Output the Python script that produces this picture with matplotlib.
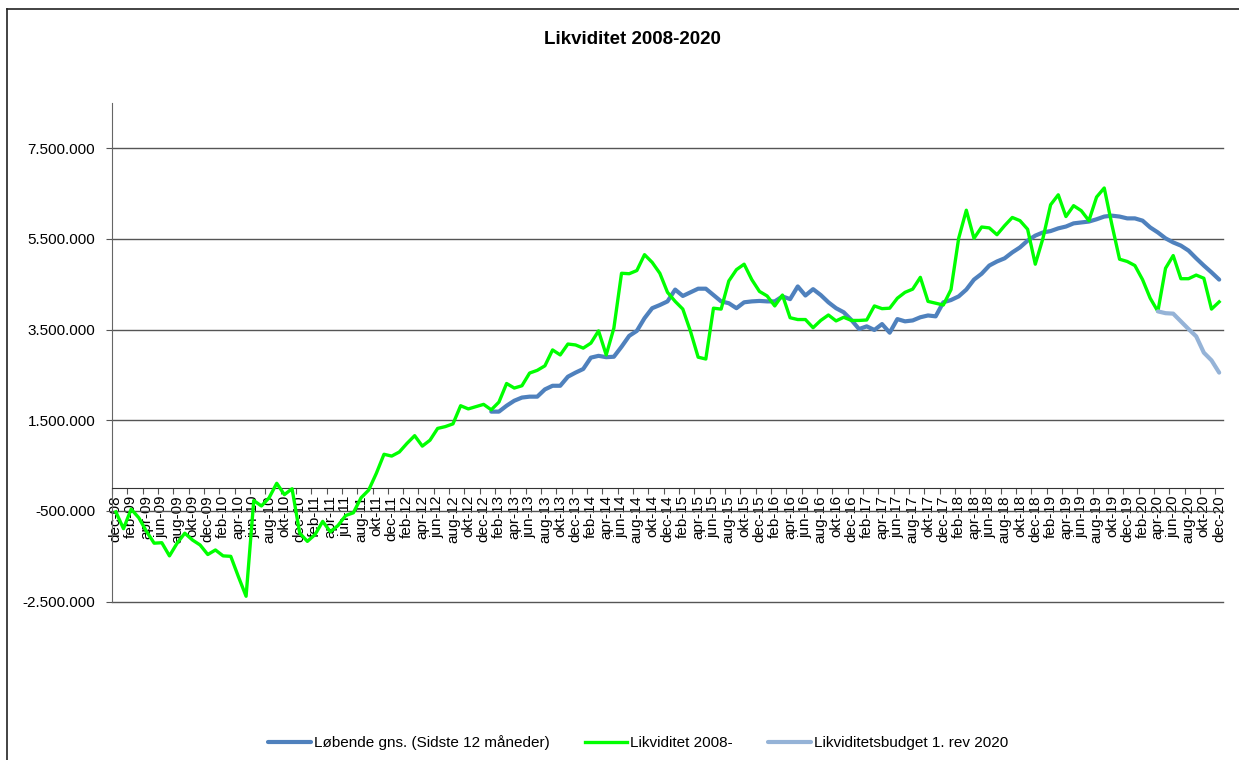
import matplotlib
matplotlib.use("Agg")
import matplotlib.pyplot as plt
from matplotlib.ticker import FixedLocator, FuncFormatter
from matplotlib.lines import Line2D
import numpy as np

plt.rcParams['font.family'] = ['Liberation Sans', 'DejaVu Sans']

# ---- data (values in millions of kr) ----
month_names = ["jan", "feb", "mar", "apr", "maj", "jun", "jul", "aug", "sep", "okt", "nov", "dec"]
categories = ["dec-08"] + [f"{m}-{y:02d}" for y in range(9, 21) for m in month_names]

likviditet = [
    -0.52, -0.89, -0.46, -0.65, -0.95, -1.21, -1.20, -1.49, -1.21, -0.99,
    -1.14, -1.25, -1.46, -1.36, -1.49, -1.50, -1.95, -2.38, -0.27, -0.39,
    -0.21, 0.11, -0.14, -0.01, -0.99, -1.17, -1.02, -0.73, -0.96, -0.82,
    -0.60, -0.54, -0.21, -0.04, 0.33, 0.75, 0.71, 0.80, 0.99, 1.16,
    0.93, 1.06, 1.32, 1.36, 1.42, 1.82, 1.75, 1.80, 1.85, 1.73,
    1.90, 2.31, 2.21, 2.26, 2.54, 2.60, 2.70, 3.05, 2.94, 3.18,
    3.16, 3.09, 3.20, 3.47, 2.94, 3.53, 4.74, 4.73, 4.80, 5.15,
    4.98, 4.74, 4.32, 4.12, 3.95, 3.46, 2.89, 2.85, 3.97, 3.95,
    4.57, 4.82, 4.94, 4.60, 4.34, 4.24, 4.02, 4.26, 3.76, 3.72,
    3.72, 3.54, 3.70, 3.82, 3.69, 3.77, 3.70, 3.70, 3.71, 4.02,
    3.96, 3.97, 4.19, 4.32, 4.39, 4.65, 4.12, 4.08, 4.04, 4.38,
    5.51, 6.13, 5.51, 5.76, 5.74, 5.59, 5.79, 5.97, 5.90, 5.71,
    4.94, 5.51, 6.25, 6.47, 5.99, 6.23, 6.12, 5.90, 6.42, 6.62,
    5.81, 5.05, 5.00, 4.91, 4.60, 4.19, 3.90, 4.85, 5.13, 4.62,
    4.62, 4.70, 4.63, 3.95, 4.11,
]

lobende_start = "jan-13"
lobende_gns = [
    1.69, 1.69, 1.82, 1.93, 2.00, 2.02, 2.02, 2.18, 2.26, 2.26,
    2.46, 2.55, 2.63, 2.88, 2.92, 2.89, 2.90, 3.12, 3.36, 3.47,
    3.75, 3.97, 4.04, 4.12, 4.38, 4.24, 4.32, 4.40, 4.40, 4.26,
    4.12, 4.08, 3.97, 4.10, 4.12, 4.13, 4.12, 4.12, 4.23, 4.17,
    4.45, 4.25, 4.39, 4.26, 4.10, 3.97, 3.88, 3.71, 3.51, 3.57,
    3.49, 3.62, 3.43, 3.73, 3.68, 3.70, 3.77, 3.81, 3.79, 4.10,
    4.15, 4.23, 4.38, 4.60, 4.73, 4.91, 5.00, 5.07, 5.20, 5.31,
    5.46, 5.57, 5.64, 5.67, 5.73, 5.77, 5.84, 5.86, 5.88, 5.93,
    5.99, 6.01, 5.99, 5.95, 5.95, 5.90, 5.75, 5.64, 5.51, 5.42,
    5.35, 5.24, 5.07, 4.91, 4.76, 4.60,
]

budget_start = "apr-20"
budget = [3.90, 3.86, 3.85, 3.68, 3.51, 3.35, 2.99, 2.82, 2.55]

series_names = ["Løbende gns. (Sidste 12 måneder)", "Likviditet 2008-", "Likviditetsbudget 1. rev 2020"]
title = "Likviditet 2008-2020"

# ---- figure ----
W, H, DPI = 1239, 760, 100
fig = plt.figure(figsize=(W / DPI, H / DPI), dpi=DPI)
ax = fig.add_axes([112 / W, 1 - 601.7 / H, (1223 - 112) / W, (601.7 - 102.7) / H])

n = len(categories)
x_all = np.arange(n)
i_lob = categories.index(lobende_start)
i_bud = categories.index(budget_start)
x_lob = np.arange(i_lob, i_lob + len(lobende_gns))
x_bud = np.arange(i_bud, i_bud + len(budget))

M = 1e6
l1, = ax.plot(x_lob, np.array(lobende_gns) * M, color="#4F81BD", lw=3.0,
              solid_joinstyle="round", solid_capstyle="round", zorder=3)
l2, = ax.plot(x_all, np.array(likviditet) * M, color="#00FF00", lw=2.4,
              solid_joinstyle="round", zorder=4)
l3, = ax.plot(x_bud, np.array(budget) * M, color="#95B3D7", lw=3.0,
              solid_joinstyle="round", solid_capstyle="round", zorder=5)

ax.set_xlim(-0.5, n - 0.5)
ax.set_ylim(-2.5 * M, 8.5 * M)

yticks = np.arange(-2.5, 7.6, 2.0) * M
ax.yaxis.set_major_locator(FixedLocator(yticks))
ax.yaxis.set_major_formatter(FuncFormatter(lambda v, p: f"{v:,.0f}".replace(",", ".")))
ax.grid(axis="y", color="#555555", lw=1.0, zorder=1)
ax.set_axisbelow(True)

# x axis crossing at 0, tick marks between categories, labels every second category
ax.spines["bottom"].set_position(("data", 0))
ax.spines["bottom"].set_color("#333333")
ax.spines["left"].set_color("#666666")
ax.spines["top"].set_visible(False)
ax.spines["right"].set_visible(False)

ax.xaxis.set_major_locator(FixedLocator(np.arange(-0.5, n, 2)))
ax.xaxis.set_major_formatter(FuncFormatter(lambda v, p: ""))
ax.xaxis.set_minor_locator(FixedLocator(x_all[::2]))
ax.xaxis.set_minor_formatter(FuncFormatter(lambda v, p: categories[int(round(v))]))
ax.tick_params(axis="x", which="major", direction="out", length=4.5, color="#555555")
ax.tick_params(axis="x", which="minor", length=0, pad=5, labelsize=11, labelrotation=90)
for lab in ax.xaxis.get_minorticklabels():
    lab.set_verticalalignment("top")
ax.tick_params(axis="y", direction="out", length=4, color="#555555", labelsize=11, pad=8)

fig.canvas.draw()
for gl in ax.yaxis.get_gridlines():
    gl.set_clip_on(False)

fig.text(632 / W, 1 - 39 / H, title, ha="center", va="center", fontsize=13.5, fontweight="bold")

fig.legend([l1, l2, l3], series_names, loc="center", bbox_to_anchor=(638 / W, 1 - 743 / H),
           ncol=3, frameon=False, fontsize=11, handlelength=2.8, handletextpad=0.2,
           columnspacing=2.3)

# chart area border (top and left visible)
fig.add_artist(Line2D([7 / W, 1.0], [1 - 9 / H, 1 - 9 / H], transform=fig.transFigure, color="#222222", lw=1.2))
fig.add_artist(Line2D([7 / W, 7 / W], [0, 1 - 9 / H], transform=fig.transFigure, color="#222222", lw=1.2))

fig.savefig("out.png", dpi=DPI)
